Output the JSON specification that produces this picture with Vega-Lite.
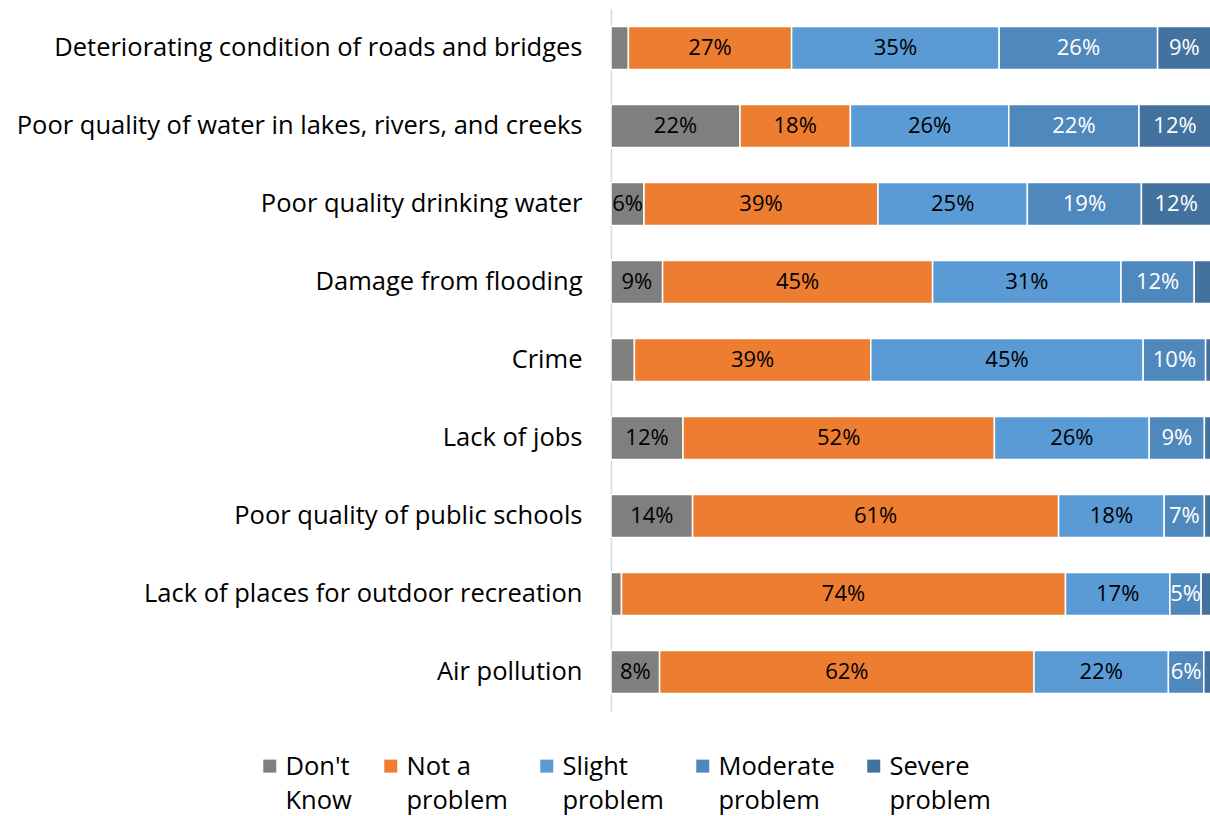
{
  "$schema": "https://vega.github.io/schema/vega-lite/v6.json",
  "autosize": "none",
  "width": 600,
  "height": 702,
  "padding": {"left": 611, "top": 9, "right": 0, "bottom": 105},
  "background": "white",
  "config": {
    "view": {"stroke": null},
    "font": "Open Sans",
    "style": {"guide-label": {"lineHeight": 34, "dy": -11}}
  },
  "datasets": {
    "categories": [
      {"category": "Don't Know", "rank": 1},
      {"category": "Not a problem", "rank": 2},
      {"category": "Slight problem", "rank": 3},
      {"category": "Moderate problem", "rank": 4},
      {"category": "Severe problem", "rank": 5}
    ]
  },
  "data": {
    "values": [
      {"item": "Deteriorating condition of roads and bridges", "category": "Don't Know", "value": 0.029},
      {"item": "Deteriorating condition of roads and bridges", "category": "Not a problem", "value": 0.272},
      {"item": "Deteriorating condition of roads and bridges", "category": "Slight problem", "value": 0.346},
      {"item": "Deteriorating condition of roads and bridges", "category": "Moderate problem", "value": 0.264},
      {"item": "Deteriorating condition of roads and bridges", "category": "Severe problem", "value": 0.089},
      {"item": "Poor quality of water in lakes, rivers, and creeks", "category": "Don't Know", "value": 0.215},
      {"item": "Poor quality of water in lakes, rivers, and creeks", "category": "Not a problem", "value": 0.184},
      {"item": "Poor quality of water in lakes, rivers, and creeks", "category": "Slight problem", "value": 0.264},
      {"item": "Poor quality of water in lakes, rivers, and creeks", "category": "Moderate problem", "value": 0.217},
      {"item": "Poor quality of water in lakes, rivers, and creeks", "category": "Severe problem", "value": 0.12},
      {"item": "Poor quality drinking water", "category": "Don't Know", "value": 0.055},
      {"item": "Poor quality drinking water", "category": "Not a problem", "value": 0.39},
      {"item": "Poor quality drinking water", "category": "Slight problem", "value": 0.249},
      {"item": "Poor quality drinking water", "category": "Moderate problem", "value": 0.19},
      {"item": "Poor quality drinking water", "category": "Severe problem", "value": 0.116},
      {"item": "Damage from flooding", "category": "Don't Know", "value": 0.086},
      {"item": "Damage from flooding", "category": "Not a problem", "value": 0.45},
      {"item": "Damage from flooding", "category": "Slight problem", "value": 0.314},
      {"item": "Damage from flooding", "category": "Moderate problem", "value": 0.122},
      {"item": "Damage from flooding", "category": "Severe problem", "value": 0.028},
      {"item": "Crime", "category": "Don't Know", "value": 0.039},
      {"item": "Crime", "category": "Not a problem", "value": 0.394},
      {"item": "Crime", "category": "Slight problem", "value": 0.454},
      {"item": "Crime", "category": "Moderate problem", "value": 0.104},
      {"item": "Crime", "category": "Severe problem", "value": 0.009},
      {"item": "Lack of jobs", "category": "Don't Know", "value": 0.12},
      {"item": "Lack of jobs", "category": "Not a problem", "value": 0.519},
      {"item": "Lack of jobs", "category": "Slight problem", "value": 0.258},
      {"item": "Lack of jobs", "category": "Moderate problem", "value": 0.092},
      {"item": "Lack of jobs", "category": "Severe problem", "value": 0.011},
      {"item": "Poor quality of public schools", "category": "Don't Know", "value": 0.136},
      {"item": "Poor quality of public schools", "category": "Not a problem", "value": 0.61},
      {"item": "Poor quality of public schools", "category": "Slight problem", "value": 0.176},
      {"item": "Poor quality of public schools", "category": "Moderate problem", "value": 0.067},
      {"item": "Poor quality of public schools", "category": "Severe problem", "value": 0.011},
      {"item": "Lack of places for outdoor recreation", "category": "Don't Know", "value": 0.0175},
      {"item": "Lack of places for outdoor recreation", "category": "Not a problem", "value": 0.74},
      {"item": "Lack of places for outdoor recreation", "category": "Slight problem", "value": 0.174},
      {"item": "Lack of places for outdoor recreation", "category": "Moderate problem", "value": 0.052},
      {"item": "Lack of places for outdoor recreation", "category": "Severe problem", "value": 0.0165},
      {"item": "Air pollution", "category": "Don't Know", "value": 0.081},
      {"item": "Air pollution", "category": "Not a problem", "value": 0.624},
      {"item": "Air pollution", "category": "Slight problem", "value": 0.224},
      {"item": "Air pollution", "category": "Moderate problem", "value": 0.059},
      {"item": "Air pollution", "category": "Severe problem", "value": 0.012}
    ]
  },
  "transform": [
    {"lookup": "category", "from": {"data": {"name": "categories"}, "key": "category", "fields": ["rank"]}}
  ],
  "encoding": {
    "y": {
      "field": "item",
      "type": "nominal",
      "sort": null,
      "scale": {"paddingInner": 0.45, "paddingOuter": 0.225},
      "axis": {
        "title": null,
        "ticks": false,
        "domainColor": "#d9d9d9",
        "domainWidth": 1.5,
        "labelFontSize": 25.5,
        "labelColor": "#000000",
        "labelPadding": 29,
        "labelOffset": 11,
        "labelLimit": 620
      }
    },
    "x": {
      "field": "value",
      "type": "quantitative",
      "stack": "zero",
      "scale": {"domain": [0, 1], "nice": false},
      "axis": null
    },
    "order": {"field": "rank", "type": "quantitative", "sort": "ascending"}
  },
  "layer": [
    {
      "mark": {"type": "bar", "stroke": "white", "strokeWidth": 1.5},
      "encoding": {
        "color": {
          "field": "category",
          "type": "nominal",
          "sort": ["Don't Know", "Not a problem", "Slight problem", "Moderate problem", "Severe problem"],
          "scale": {
            "domain": ["Don't Know", "Not a problem", "Slight problem", "Moderate problem", "Severe problem"],
            "range": ["#7f7f7f", "#ed7d31", "#5b9bd5", "#4f88bd", "#43729e"]
          },
          "legend": {
            "title": null,
            "orient": "none",
            "legendX": -354,
            "legendY": 744,
            "direction": "horizontal",
            "columns": 5,
            "columnPadding": 26,
            "symbolType": "square",
            "symbolSize": 169,
            "symbolStrokeWidth": 0,
            "labelFontSize": 25.5,
            "labelColor": "#000000",
            "labelBaseline": "top",
            "labelOffset": 3,
            "labelLimit": 200,
            "labelExpr": "datum.label == \"Don't Know\" ? [\"Don't\", 'Know'] : datum.label == 'Not a problem' ? ['Not a', 'problem'] : [split(datum.label, ' ')[0], 'problem']"
          }
        }
      }
    },
    {
      "mark": {"type": "text", "fontSize": 22, "baseline": "middle", "align": "center"},
      "encoding": {
        "x": {
          "field": "value",
          "type": "quantitative",
          "stack": "zero",
          "bandPosition": 0.5
        },
        "color": {
          "field": "category",
          "type": "nominal",
          "sort": ["Don't Know", "Not a problem", "Slight problem", "Moderate problem", "Severe problem"],
          "scale": {
            "domain": ["Don't Know", "Not a problem", "Slight problem", "Moderate problem", "Severe problem"],
            "range": ["#000000", "#000000", "#000000", "#ffffff", "#ffffff"]
          },
          "legend": null
        },
        "text": {
          "condition": {"test": "datum.value < 0.045", "value": ""},
          "field": "value",
          "type": "quantitative",
          "format": ".0%"
        }
      }
    }
  ],
  "resolve": {"scale": {"color": "independent"}}
}
